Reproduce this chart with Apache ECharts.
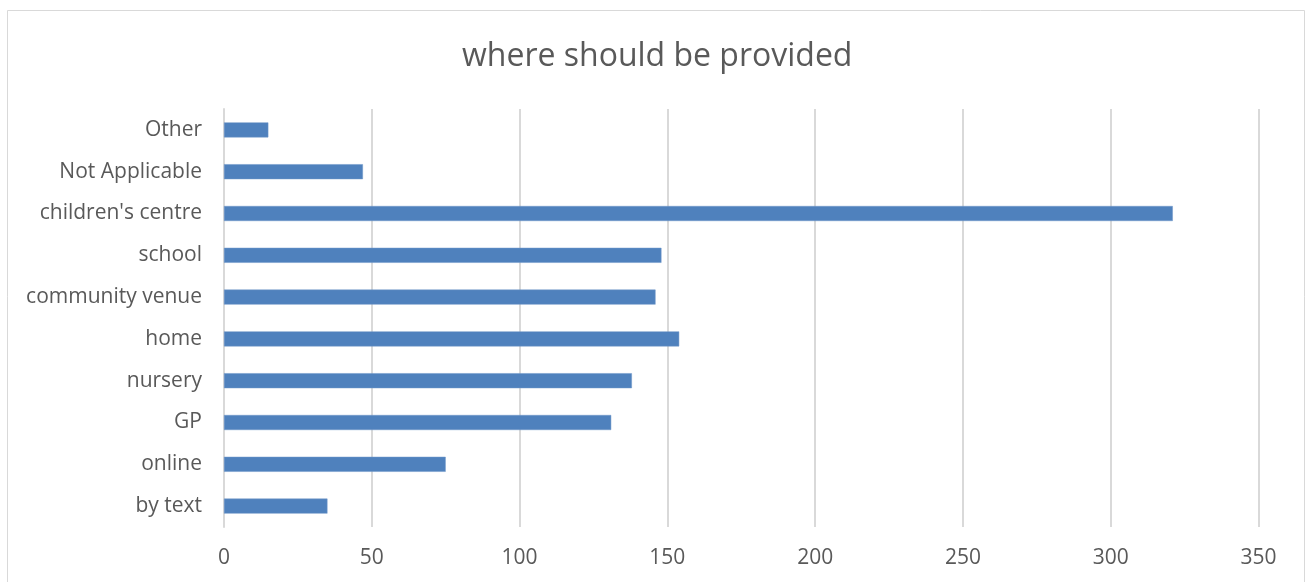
<!DOCTYPE html>
<html>
<head>
<meta charset="utf-8">
<script src="https://cdn.jsdelivr.net/npm/echarts@6/dist/echarts.min.js"></script>
<style>
html,body{margin:0;padding:0;background:#fff;}
#chart{width:1307px;height:582px;}
</style>
</head>
<body>
<div id="chart"></div>
<script>
const title = "where should be provided";
const categories = ["by text","online","GP","nursery","home","community venue","school","children's centre","Not Applicable","Other"];
const values = [35, 75, 131, 138, 154, 146, 148, 321, 47, 15];
const xTicks = {min: 0, max: 350, interval: 50};

const chart = echarts.init(document.getElementById('chart'));
const font = "'Open Sans', 'Noto Sans', sans-serif";
chart.setOption({
  animation: false,
  backgroundColor: '#fff',
  graphic: [{
    type: 'rect',
    shape: {x: 7.5, y: 10.5, width: 1297, height: 600},
    style: {fill: 'none', stroke: '#d9d9d9', lineWidth: 1}
  }],
  title: {
    text: title,
    left: 457,
    top: 36,
    textStyle: {fontFamily: font, fontSize: 32, fontWeight: 'normal', color: '#595959'}
  },
  grid: {left: 224, right: 48.5, top: 109, bottom: 55, containLabel: false},
  xAxis: {
    type: 'value',
    min: xTicks.min, max: xTicks.max, interval: xTicks.interval,
    axisLine: {show: false},
    axisTick: {show: false},
    splitLine: {show: true, lineStyle: {color: '#d9d9d9', width: 2}},
    axisLabel: {fontFamily: font, fontSize: 21, color: '#595959', margin: 21}
  },
  yAxis: {
    type: 'category',
    data: categories,
    axisLine: {show: true, lineStyle: {color: '#d9d9d9', width: 2}},
    axisTick: {show: false},
    axisLabel: {fontFamily: font, fontSize: 21, color: '#595959', margin: 22}
  },
  series: [{
    type: 'bar',
    data: values,
    barWidth: 15,
    itemStyle: {color: '#4f81bd', borderColor: '#6f97c9', borderWidth: 0.5}
  }]
});
</script>
</body>
</html>
